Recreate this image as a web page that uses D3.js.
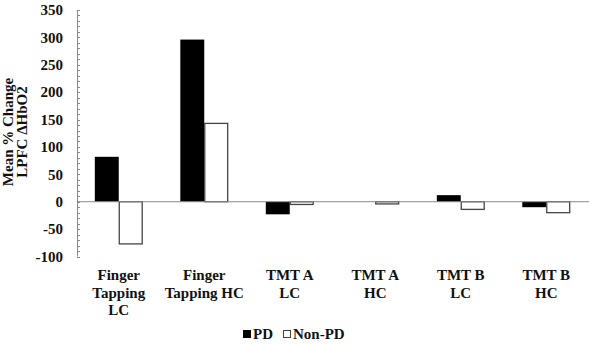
<!DOCTYPE html>
<html>
<head>
<meta charset="utf-8">
<script src="https://cdn.jsdelivr.net/npm/d3@7"></script>
<style>
  body { margin: 0; background: #fff; }
</style>
</head>
<body>
<svg id="chart" width="590" height="344"></svg>
<script>
// categories (label lines) and series values
const categories = ["FT LC", "FT HC", "TMT A LC", "TMT A HC", "TMT B LC", "TMT B HC"];
const categoryLines = [
  ["Finger", "Tapping", "LC"],
  ["Finger", "Tapping HC"],
  ["TMT A", "LC"],
  ["TMT A", "HC"],
  ["TMT B", "LC"],
  ["TMT B", "HC"]
];
const seriesNames = ["PD", "Non-PD"];
const pdValues = [82, 296, -23, 0, 12, -10];
const nonPdValues = [-77, 143, -5, -4, -14, -20];
const yTicks = [-100, -50, 0, 50, 100, 150, 200, 250, 300, 350];

const svg = d3.select("#chart");
const axisColor = "#8a8a8a";

// shared text style
function serif(sel, size) {
  return sel.style("font-family", "Liberation Serif")
    .style("font-weight", "bold")
    .style("font-size", size + "px")
    .attr("fill", "#111");
}

const x = d3.scaleBand().domain(categories).range([76, 589]).paddingInner(0.44).paddingOuter(0.22);
const xs = d3.scaleBand().domain(seriesNames).range([0, x.bandwidth()]);
const y = d3.scaleLinear().domain([-100, 350]).range([256.5, 10]);

// minor ticks every 10, on the inside
const minor = d3.range(-100, 351, 10);
svg.append("g")
  .selectAll("line")
  .data(minor)
  .enter()
  .append("line")
  .attr("x1", 77).attr("x2", 80)
  .attr("y1", d => Math.round(y(d)) + 0.5)
  .attr("y2", d => Math.round(y(d)) + 0.5)
  .attr("stroke", axisColor)
  .attr("stroke-width", 1);

// y axis line
svg.append("line")
  .attr("x1", 77.5).attr("x2", 77.5)
  .attr("y1", y(350)).attr("y2", y(-100))
  .attr("stroke", axisColor);

// tick labels
serif(svg.append("g")
  .selectAll("text")
  .data(yTicks)
  .enter()
  .append("text")
  .attr("x", 63)
  .attr("y", d => y(d))
  .attr("dy", "0.35em")
  .attr("text-anchor", "end"), 15)
  .text(d => d);

// bars
const rows = categories.map((c, i) => ({ cat: c, values: [pdValues[i], nonPdValues[i]] }));
const groups = svg.append("g")
  .selectAll("g")
  .data(rows)
  .enter()
  .append("g")
  .attr("transform", d => `translate(${x(d.cat)},0)`);

groups.selectAll("rect")
  .data(d => d.values.map((v, k) => ({ name: seriesNames[k], v })))
  .enter()
  .filter(d => d.v !== 0)
  .append("rect")
  .attr("x", d => xs(d.name) + (d.name === "PD" ? 0 : 0.5))
  .attr("width", d => xs.bandwidth() - (d.name === "PD" ? 0 : 1))
  .attr("y", d => y(Math.max(0, d.v)))
  .attr("height", d => Math.abs(y(d.v) - y(0)))
  .attr("fill", d => d.name === "PD" ? "#000" : "#fff")
  .attr("stroke", d => d.name === "PD" ? "none" : "#444")
  .attr("stroke-width", 1.3);

// zero line
svg.append("line")
  .attr("x1", 77).attr("x2", 589)
  .attr("y1", y(0)).attr("y2", y(0))
  .attr("stroke", axisColor);

// category labels
const labels = serif(svg.append("g")
  .selectAll("text")
  .data(categories)
  .enter()
  .append("text")
  .attr("text-anchor", "middle"), 15);
labels.each(function (d, i) {
  const t = d3.select(this);
  categoryLines[i].forEach((line, j) => {
    t.append("tspan")
      .attr("x", x(d) + x.bandwidth() / 2)
      .attr("y", 280 + j * 17.5)
      .text(line);
  });
});

// y title
const title = serif(svg.append("text")
  .attr("transform", "translate(13,132) rotate(-90)")
  .attr("text-anchor", "middle"), 15);
title.append("tspan").attr("x", 0).attr("y", 0).text("Mean % Change");
title.append("tspan").attr("x", 0).attr("y", 14).text("LPFC \u0394HbO2");

// legend
const legend = svg.append("g").attr("transform", "translate(243,330)");
seriesNames.forEach((name, k) => {
  const lx = k === 0 ? 0 : 40;
  legend.append("rect")
    .attr("x", lx + 0.5).attr("y", 0.5)
    .attr("width", 7).attr("height", 7)
    .attr("fill", k === 0 ? "#000" : "#fff")
    .attr("stroke", k === 0 ? "#000" : "#444");
  serif(legend.append("text")
    .attr("x", lx + 10).attr("y", 9), 15)
    .text(name);
});
</script>
</body>
</html>
